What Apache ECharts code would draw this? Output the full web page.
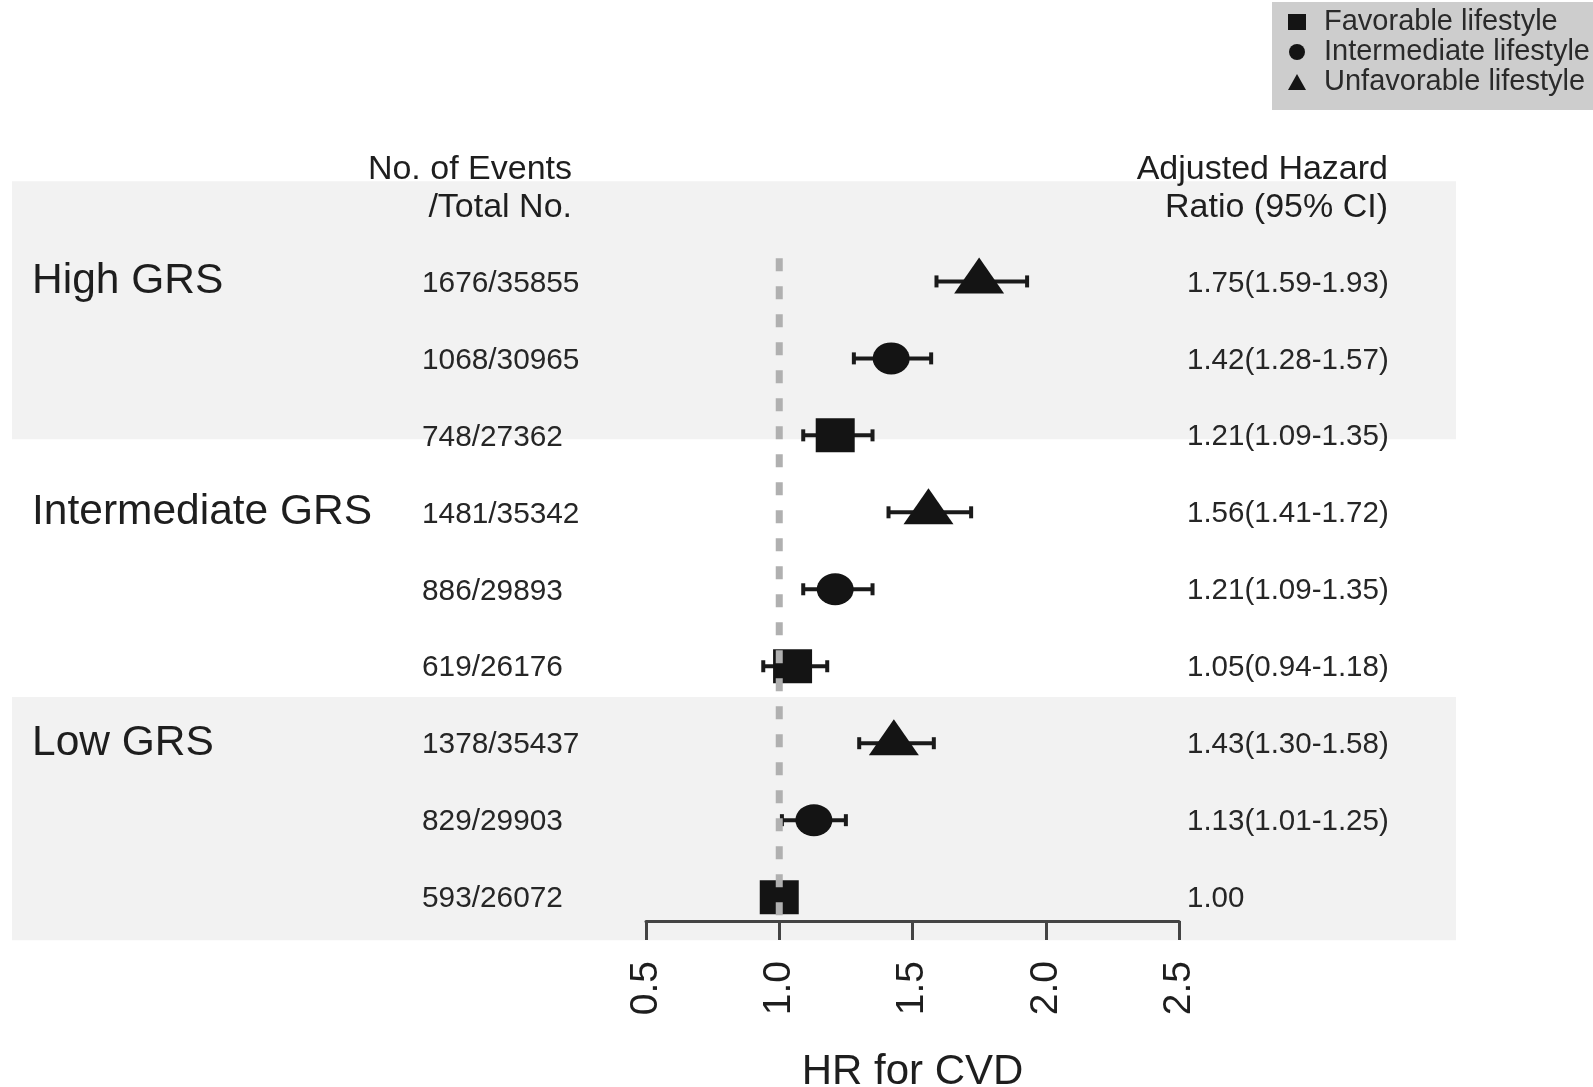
<!DOCTYPE html>
<html>
<head>
<meta charset="utf-8">
<title>HR for CVD by GRS and lifestyle</title>
<script src="https://cdn.jsdelivr.net/npm/echarts@6/dist/echarts.min.js"></script>
<style>
  html, body { margin: 0; padding: 0; background: #ffffff; }
  #chart { width: 1593px; height: 1087px; }
</style>
</head>
<body>
<div id="chart"></div>
<script>
// Genetic risk score groups and lifestyle categories
const groupLabels = ['High GRS', 'Intermediate GRS', 'Low GRS'];
const lifestyles = ['Favorable lifestyle', 'Intermediate lifestyle', 'Unfavorable lifestyle'];
const lifestyleSymbols = ['rect', 'circle', 'triangle'];

// One entry per row, top to bottom
const rowGroup = [0, 0, 0, 1, 1, 1, 2, 2, 2];
const rowLifestyle = [2, 1, 0, 2, 1, 0, 2, 1, 0];
const eventCounts = ['1676/35855', '1068/30965', '748/27362',
                     '1481/35342', '886/29893', '619/26176',
                     '1378/35437', '829/29903', '593/26072'];
const hazardRatio = [1.75, 1.42, 1.21, 1.56, 1.21, 1.05, 1.43, 1.13, 1.00];
const ciLower = [1.59, 1.28, 1.09, 1.41, 1.09, 0.94, 1.30, 1.01, null];
const ciUpper = [1.93, 1.57, 1.35, 1.72, 1.35, 1.18, 1.58, 1.25, null];

// x-axis ticks
const xTicks = [0.5, 1.0, 1.5, 2.0, 2.5];
const referenceHR = 1.0;

const FONT = '"Liberation Sans", Arial, Helvetica, sans-serif';
const INK = '#1e1e1e';

const hrLabel = (i) => ciLower[i] == null
  ? hazardRatio[i].toFixed(2)
  : hazardRatio[i].toFixed(2) + '(' + ciLower[i].toFixed(2) + '-' + ciUpper[i].toFixed(2) + ')';

const rows = hazardRatio.map((_, i) => i);

// Marker series, one per lifestyle
const symbolSizes = [[39, 34], [37, 32], [50, 36]];
const symbolOffsets = [[0, 0], [0, 0], [0, -6]];
const markerSeries = lifestyles.map((name, li) => ({
  type: 'scatter',
  name: name,
  symbol: lifestyleSymbols[li],
  symbolSize: symbolSizes[li],
  symbolOffset: symbolOffsets[li],
  itemStyle: { color: '#141414', opacity: 1 },
  z: 4,
  silent: true,
  data: rows.filter(i => rowLifestyle[i] === li).map(i => [hazardRatio[i], i])
}));

const headerText = (text, x, y) => ({
  type: 'text', x: x, y: y, z: 100,
  style: { text: text, align: 'right', verticalAlign: 'middle', fontFamily: FONT, fontSize: 34, fill: INK }
});

const chart = echarts.init(document.getElementById('chart'), null, { renderer: 'canvas' });

const option = {
  backgroundColor: '#ffffff',
  animation: false,
  grid: { left: 646, right: 414, top: 89, bottom: 166, containLabel: false, outerBoundsMode: 'none' },
  legend: {
    orient: 'vertical',
    left: 1272,
    top: 2,
    backgroundColor: '#cdcdcd',
    padding: [5, 40, 13, 16],
    itemWidth: 18,
    itemHeight: 16,
    itemGap: 0,
    selectedMode: false,
    textStyle: { fontFamily: FONT, fontSize: 29, color: '#2a2a2a', lineHeight: 30, padding: [0, 0, 0, 13] },
    data: lifestyles.map((name, li) => ({ name: name, icon: lifestyleSymbols[li] }))
  },
  xAxis: {
    type: 'value',
    min: xTicks[0],
    max: xTicks[xTicks.length - 1],
    interval: 0.5,
    splitLine: { show: false },
    axisLine: { show: true, onZero: false, lineStyle: { color: '#444', width: 3 } },
    axisTick: { show: true, length: 19, lineStyle: { color: '#444', width: 3 } },
    axisLabel: {
      rotate: 90,
      margin: 40,
      fontFamily: FONT,
      fontSize: 39,
      color: INK,
      formatter: (v) => v.toFixed(1)
    },
    name: 'HR for CVD',
    nameLocation: 'middle',
    nameGap: 130,
    nameTextStyle: { fontFamily: FONT, fontSize: 42, color: INK }
  },
  yAxis: {
    type: 'value',
    inverse: true,
    min: -2.5,
    max: 8.31,
    show: false
  },
  graphic: [
    headerText('No. of Events', 572, 170),
    headerText('/Total No.', 572, 208),
    headerText('Adjusted Hazard', 1388, 170),
    headerText('Ratio (95% CI)', 1388, 208)
  ],
  series: [
    // shaded bands behind the High GRS and Low GRS blocks
    {
      type: 'custom',
      name: 'bands',
      silent: true,
      clip: false,
      z: 0,
      data: [[-1.3, 2.05], [5.4, 8.56]],
      renderItem: (params, api) => {
        const y1 = api.coord([1, api.value(0)])[1];
        const y2 = api.coord([1, api.value(1)])[1];
        return {
          type: 'rect',
          shape: { x: 12, y: y1, width: 1444, height: y2 - y1 },
          style: { fill: '#f2f2f2' }
        };
      }
    },
    // row texts: group name, events/total, HR with CI
    {
      type: 'custom',
      name: 'rowText',
      silent: true,
      clip: false,
      z: 2,
      data: rows.map(i => [i]),
      renderItem: (params, api) => {
        const i = api.value(0);
        const y = api.coord([1, i])[1] + 2;
        const children = [
          { type: 'text', x: 422, y: y, style: { text: eventCounts[i], align: 'left', verticalAlign: 'middle', fontFamily: FONT, fontSize: 29.8, fill: '#262626' } },
          { type: 'text', x: 1187, y: y, style: { text: hrLabel(i), align: 'left', verticalAlign: 'middle', fontFamily: FONT, fontSize: 29.5, fill: '#262626' } }
        ];
        if (i === 0 || rowGroup[i] !== rowGroup[i - 1]) {
          children.push({ type: 'text', x: 32, y: y - 2, style: { text: groupLabels[rowGroup[i]], align: 'left', verticalAlign: 'middle', fontFamily: FONT, fontSize: 42.5, fill: INK } });
        }
        return { type: 'group', children: children };
      }
    },
    // confidence interval whiskers
    {
      type: 'custom',
      name: 'ci',
      silent: true,
      clip: false,
      z: 3,
      data: rows.filter(i => ciLower[i] != null).map(i => [ciLower[i], ciUpper[i], i]),
      renderItem: (params, api) => {
        const lo = api.coord([api.value(0), api.value(2)]);
        const hi = api.coord([api.value(1), api.value(2)]);
        const st = { stroke: '#1a1a1a', lineWidth: 4 };
        return {
          type: 'group',
          children: [
            { type: 'line', shape: { x1: lo[0], y1: lo[1], x2: hi[0], y2: hi[1] }, style: st },
            { type: 'line', shape: { x1: lo[0], y1: lo[1] - 6, x2: lo[0], y2: lo[1] + 6 }, style: st },
            { type: 'line', shape: { x1: hi[0], y1: hi[1] - 6, x2: hi[0], y2: hi[1] + 6 }, style: st }
          ]
        };
      }
    },
    ...markerSeries,
    // dashed reference line at HR = 1
    {
      type: 'custom',
      name: 'reference',
      silent: true,
      clip: false,
      z: 5,
      data: [[referenceHR]],
      renderItem: (params, api) => {
        const top = api.coord([api.value(0), -0.3]);
        const bottom = api.coord([api.value(0), 8.31]);
        return {
          type: 'line',
          shape: { x1: top[0], y1: top[1], x2: bottom[0], y2: bottom[1] },
          style: { stroke: '#b0b0b0', lineWidth: 7, lineDash: [13, 15] }
        };
      }
    }
  ]
};

chart.setOption(option);
</script>
</body>
</html>
